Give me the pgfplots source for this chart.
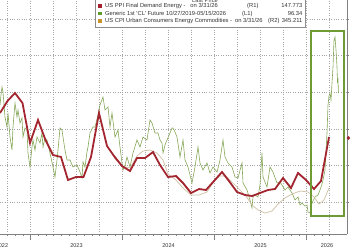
\documentclass[border=0pt]{standalone}
\usepackage{pgfplots}
\pgfplotsset{compat=1.18}
\usepackage{fontspec}
\setmainfont{Liberation Sans}
\definecolor{ppired}{HTML}{A3252F}
\definecolor{oilgreen}{HTML}{86A657}
\definecolor{boxgreen}{HTML}{6E9B34}
\definecolor{cputan}{HTML}{CDBFA3}
\definecolor{legorange}{HTML}{C8922E}
\definecolor{leggreen}{HTML}{5F9B2D}
\definecolor{legred}{HTML}{A3202C}
\begin{document}
\begin{tikzpicture}
\useasboundingbox (0,-16pt) rectangle (350pt,234pt);
\begin{axis}[
  at={(0,0)}, anchor=south west,
  scale only axis, width=347pt, height=234pt,
  xmin=0, xmax=347, ymin=0, ymax=234,
  clip=false,
  axis x line*=bottom, axis y line*=right,
  axis line style={draw=black!50, line width=0.4pt},
  xtick={7.5,30.5,53.5,76.5,99.5,122.5,145.5,168.5,191.5,214.5,237.5,260.5,283.5,306.5,329.5},
  xticklabels={},
  minor x tick num=2,
  ytick={32,68.6,105.2,141.8,178.4,215},
  yticklabels={},
  tick align=outside,
  major tick length=2pt, minor tick length=2pt,
  tick style={draw=black!50, line width=0.4pt},
  grid=major,
  major grid style={dotted, draw=black!35, line width=0.5pt},
  extra x ticks={30.5,122.5,214.5,306.5},
  extra x tick labels={},
  extra x tick style={grid=none, major tick length=6pt, xticklabels={}},
]
% Generic 1st CL future (green)
\addplot[color=oilgreen, line width=0.6pt] coordinates {
(0,129) (1,139) (2,147) (3,142) (5,117) (7,107) (8,121) (10,97) (12,84) (13,107)
(15,131) (17,117) (18,124) (20,111) (22,116) (23,97) (25,106) (27,104) (28,81) (30,67)
(32,87) (33,94) (35,84) (37,97) (40,91) (42,101) (43,87) (45,96) (47,94) (50,81)
(53,67) (55,57) (57,74) (58,84) (60,106) (62,104) (63,97) (65,84) (67,74) (70,74)
(73,67) (77,69) (80,62) (82,56) (83,72) (85,67) (87,82) (88,87) (90,101) (93,107)
(95,107) (98,119) (100,129) (103,137) (105,124) (108,127) (110,107) (112,121) (115,97) (118,104)
(120,87) (122,71) (123,64) (125,69) (127,77) (130,67) (133,81) (137,94) (140,87) (143,97)
(147,94) (150,114) (152,111) (155,101) (158,101) (160,94) (162,91) (163,81) (165,89) (167,94)
(170,101) (172,106) (173,106) (175,102) (177,97) (180,77) (183,94) (185,74) (188,67) (190,59)
(192,51) (195,67) (198,87) (200,71) (203,64) (207,71) (210,61) (213,67) (217,62) (220,74)
(223,94) (225,77) (228,71) (232,67) (235,57) (238,56) (242,71) (243,51) (247,44) (250,34)
(252,26) (253,37) (255,39) (258,37) (260,49) (262,81) (263,57) (265,52) (267,47) (270,67)
(273,62) (277,51) (280,52) (282,49) (285,44) (288,47) (292,41) (295,34) (298,37) (300,29)
(302,31) (305,28) (307,29) (308,22) (310,21) (312,31) (315,37) (318,39) (320,44) (322,50)
(323,54) (325,64) (327,101) (328,129) (329,138) (330,141) (331,134) (332,151) (333,167) (334,194)
(335,197) (336,184) (337,167) (337.5,151) (338,154) (338.5,141)
};
% US CPI Urban Consumers Energy Commodities (tan)
\addplot[color=cputan, line width=0.7pt] coordinates {
(114,76) (122,68) (130,66) (137,78) (143,83) (150,84) (157,81) (163,74) (168,60) (176,54)
(183,46) (191,39) (199,39) (207,42) (214,53) (220,58) (226,58) (233,51) (240,44) (246,38)
(252,29) (258,24) (265,21) (272,23) (278,30) (285,36) (292,40) (300,43) (308,42) (314,37)
(319,30) (324,34) (329,46)
};
% US PPI Final Demand Energy (red)
\addplot[color=ppired, line width=1.8pt] coordinates {
(0,121) (7.5,133) (15,141) (22.5,131) (30,91) (38,114) (45.5,94) (53,79) (61,77) (68,54)
(76,57) (83.5,57) (91,77) (99,121) (107,88) (114,78) (122,68) (130,63) (137,76) (145,76)
(153,82) (160,69) (168,57) (176,58) (183,51) (191,41) (199,45) (206,44) (214,53) (222,62)
(229,53) (237,42) (245,39) (252,38) (260,41) (268,44) (275,45) (283,56) (291,46) (298,61)
(306,54) (314,45) (321,53) (329,97)
};
% last value marker on right axis
\addplot[only marks, mark=*, mark size=1.6pt, color=ppired] coordinates {(348.5,96)};
% highlight box
\draw[boxgreen, line width=1.2pt] (axis cs:311,18) rectangle (axis cs:344,203);
% legend
\draw[fill=white, draw=black!45, line width=0.4pt] (axis cs:95,207) rectangle (axis cs:305,242);
\node[font=\fontsize{5.8}{6}\selectfont, text=black!75] at (axis cs:205,233.6) {Last Price};
\fill[legred] (axis cs:97.5,226.3) rectangle (axis cs:102,229.8);
\fill[leggreen] (axis cs:97.5,218.8) rectangle (axis cs:102,222.3);
\fill[legorange] (axis cs:97.5,211.3) rectangle (axis cs:102,214.8);
\begin{scope}[every node/.style={font=\fontsize{5.8}{6}\selectfont, text=black!80, inner sep=0pt}]
\node[anchor=west] at (axis cs:105,228) {US PPI Final Demand Energy -\hspace{5pt}on 3/31/26};
\node[anchor=west] at (axis cs:247,228) {(R1)};
\node[anchor=east] at (axis cs:302.5,228) {147.773};
\node[anchor=west] at (axis cs:105,220.5) {Generic 1st \textquotesingle CL\textquotesingle\ Future 10/27/2019-05/15/2026};
\node[anchor=west] at (axis cs:242,220.5) {(L1)};
\node[anchor=east] at (axis cs:302.5,220.5) {96.34};
\node[anchor=west] at (axis cs:105,213) {US CPI Urban Consumers Energy Commodities -\hspace{3pt}on 3/31/26};
\node[anchor=west] at (axis cs:268,213) {(R2)};
\node[anchor=east] at (axis cs:302.5,213) {345.211};
\end{scope}
% year labels
\begin{scope}[every node/.style={font=\fontsize{5.5}{6}\selectfont, text=black!80, inner sep=0pt}]
\node at (axis cs:2,-11.5) {2022};
\node at (axis cs:76.5,-11.5) {2023};
\node at (axis cs:168.5,-11.5) {2024};
\node at (axis cs:260.5,-11.5) {2025};
\node at (axis cs:327,-11.5) {2026};
\end{scope}
\end{axis}
\end{tikzpicture}
\end{document}
